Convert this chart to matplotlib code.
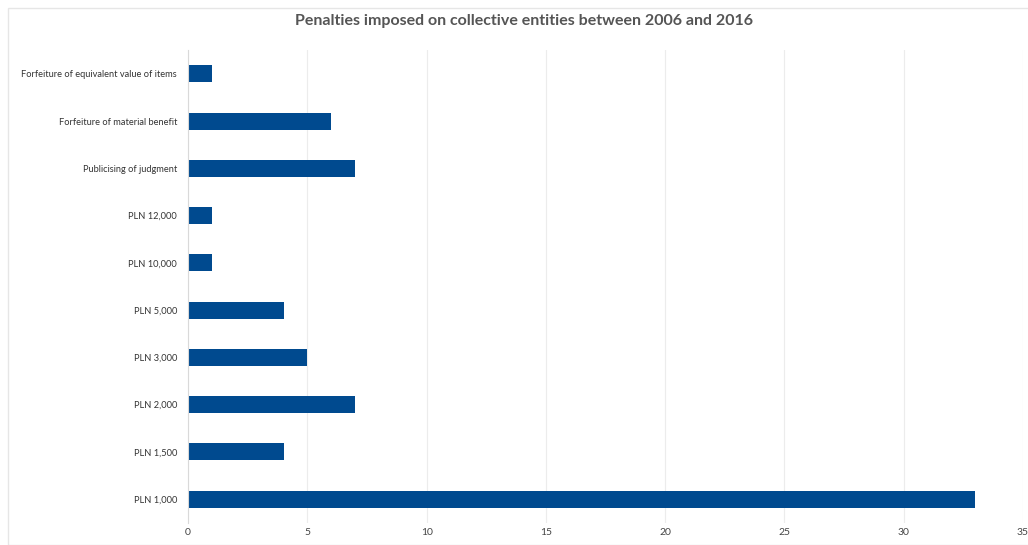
import matplotlib
matplotlib.use("Agg")
import matplotlib.pyplot as plt
from matplotlib import font_manager
from matplotlib.patches import Rectangle

# categories from bottom to top
categories = ["PLN 1,000", "PLN 1,500", "PLN 2,000", "PLN 3,000", "PLN 5,000",
              "PLN 10,000", "PLN 12,000", "Publicising of judgment",
              "Forfeiture of material benefit",
              "Forfeiture of equivalent value of items"]
counts = [33, 4, 7, 5, 4, 1, 1, 7, 6, 1]
xticks = [0, 5, 10, 15, 20, 25, 30, 35]

plt.rcParams['font.family'] = ['Lato', 'DejaVu Sans']

# the reference uses a condensed face for the category labels
names = {f.name for f in font_manager.fontManager.ttflist}
if "Liberation Sans Narrow" in names:
    label_font, label_size = ["Liberation Sans Narrow", "Lato"], 8
else:
    label_font, label_size = ["Lato", "DejaVu Sans"], 6.7

fig = plt.figure(figsize=(10.28, 5.45), dpi=100)
ax = fig.add_axes([0.183, 0.041, 0.812, 0.867])

# faint border around the chart
fig.patches.append(Rectangle((8 / 1028, 0), 1.0, 1 - 8 / 545, transform=fig.transFigure,
                             fill=False, edgecolor="#e6e6e6", linewidth=1))

ax.barh(range(len(categories)), counts, height=0.36, color="#004a8f")

ax.set_xlim(0, 35)
ax.set_ylim(-0.5, len(categories) - 0.5)
ax.set_xticks(xticks)
ax.set_yticks(range(len(categories)))
ax.set_yticklabels(categories, family=label_font, fontsize=label_size)
ax.tick_params(axis="y", length=0, pad=8, labelcolor="#333333")
ax.tick_params(axis="x", length=0, pad=4, labelsize=7.5, labelcolor="#444444")

ax.grid(axis="x", color="#ececec", linewidth=0.8)
ax.set_axisbelow(True)
for side in ["top", "right", "bottom"]:
    ax.spines[side].set_visible(False)
ax.spines["left"].set_color("#d9d9d9")

fig.suptitle("Penalties imposed on collective entities between 2006 and 2016",
             x=0.51, y=0.975, fontsize=11.5, fontweight="bold", color="#555555")

fig.savefig("out.png", dpi=100, facecolor="white")
